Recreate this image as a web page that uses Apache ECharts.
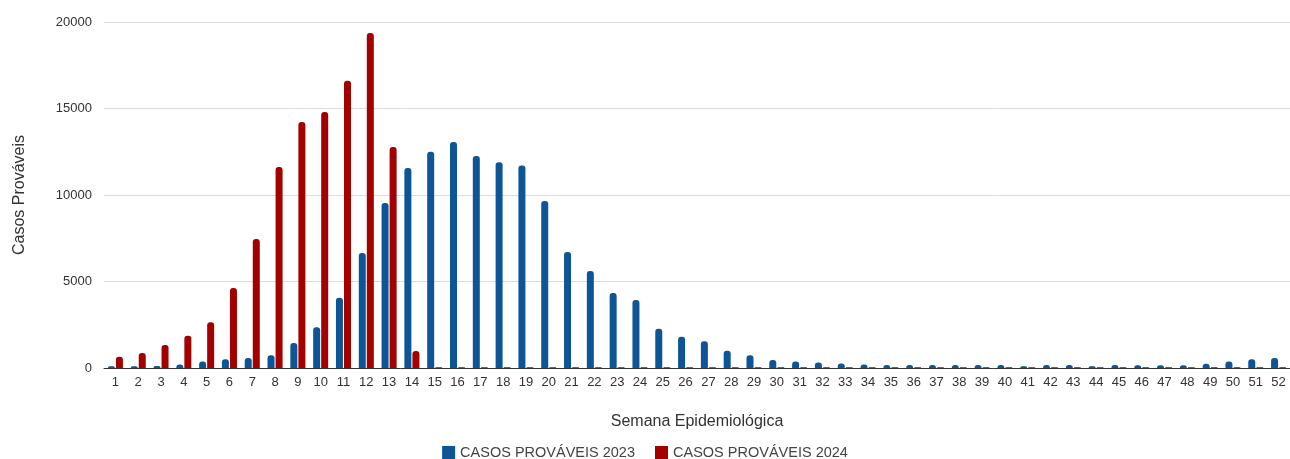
<!DOCTYPE html>
<html><head><meta charset="utf-8">
<script src="https://cdn.jsdelivr.net/npm/echarts@6/dist/echarts.min.js"></script>
<style>html,body{margin:0;padding:0;background:#fff}#c{width:1290px;height:459px}</style>
</head><body><div id="c"></div>
<script>
const semanas = Array.from({length:52},(_, i)=>String(i+1));
const casos2023 = [100,100,110,200,380,500,580,730,1450,2350,4060,6650,9540,11560,12500,13060,12250,11900,11700,9650,6710,5610,4340,3930,2270,1800,1540,990,730,460,380,320,260,200,180,180,180,170,170,170,100,170,170,100,170,160,160,160,250,380,500,580];
const casos2024 = [650,870,1330,1860,2650,4620,7460,11620,14220,14800,16600,19360,12770,980,40,40,40,40,40,40,40,40,40,40,40,40,40,40,40,40,40,40,40,40,40,40,40,40,40,40,40,40,40,40,40,40,40,40,40,40,40,40];
const yTicks = [0,5000,10000,15000,20000];

const chart = echarts.init(document.getElementById('c'));
chart.setOption({
  animation:false,
  textStyle:{fontFamily:'Liberation Sans, Arial, sans-serif'},
  grid:{left:104,right:-3,top:22,bottom:91},
  legend:{
    top:440, left:'center', itemWidth:13, itemHeight:13, itemGap:20,
    icon:'rect',
    textStyle:{color:'#444',fontSize:14.5},
    data:['CASOS PROVÁVEIS 2023','CASOS PROVÁVEIS 2024']
  },
  xAxis:{
    type:'category', data:semanas,
    name:'Semana Epidemiológica', nameLocation:'middle', nameGap:46,
    nameTextStyle:{color:'#333',fontSize:16},
    axisLine:{lineStyle:{color:'#333',width:1}},
    axisTick:{show:false},
    axisLabel:{color:'#333',fontSize:13,interval:0,margin:8}
  },
  yAxis:{
    type:'value', min:0, max:20000, interval:5000,
    name:'Casos Prováveis', nameLocation:'middle', nameGap:76,
    nameTextStyle:{color:'#333',fontSize:16},
    axisLine:{show:false}, axisTick:{show:false},
    axisLabel:{color:'#333',fontSize:13,margin:12,
      formatter:v=>yTicks.includes(v)?String(v):''},
    splitLine:{lineStyle:{color:'#dcdcdc',width:1}}
  },
  series:[
    {name:'CASOS PROVÁVEIS 2023',type:'bar',data:casos2023,barWidth:7,barGap:'15%',
     itemStyle:{color:'#0d5597',borderRadius:[3,3,0,0]}},
    {name:'CASOS PROVÁVEIS 2024',type:'bar',data:casos2024,barWidth:7,barGap:'15%',
     itemStyle:{color:'#a30000',borderRadius:[3,3,0,0]}}
  ]
});
</script></body></html>
